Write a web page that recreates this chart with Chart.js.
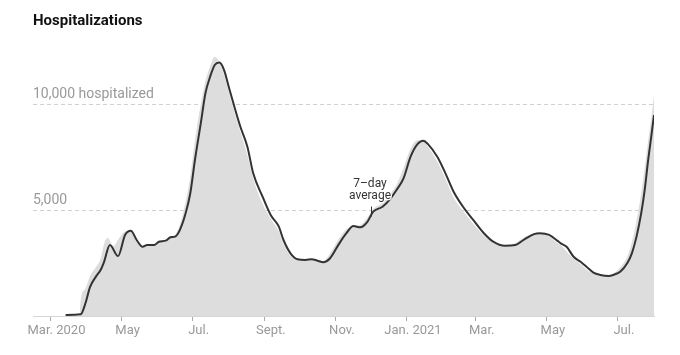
<!DOCTYPE html>
<html>
<head>
<meta charset="utf-8">
<script src="https://cdn.jsdelivr.net/npm/chart.js@4/dist/chart.umd.min.js"></script>
<style>
html,body{margin:0;padding:0;background:#fff;}
#wrap{width:680px;height:355px;position:relative;}
</style>
</head>
<body>
<div id="wrap"><canvas id="c" width="680" height="355"></canvas></div>
<script>
// ---- data ----
const avgDates = ['2020-03-14','2020-03-27','2020-03-31','2020-04-04','2020-04-09','2020-04-13','2020-04-16','2020-04-21','2020-04-28','2020-05-04','2020-05-09','2020-05-14','2020-05-19','2020-05-23','2020-05-29','2020-06-02','2020-06-08','2020-06-12','2020-06-16','2020-06-20','2020-06-25','2020-06-29','2020-07-03','2020-07-08','2020-07-12','2020-07-16','2020-07-20','2020-07-24','2020-07-28','2020-08-01','2020-08-05','2020-08-11','2020-08-17','2020-08-22','2020-08-30','2020-09-06','2020-09-13','2020-09-17','2020-09-23','2020-09-29','2020-10-06','2020-10-11','2020-10-17','2020-10-21','2020-10-27','2020-11-03','2020-11-10','2020-11-16','2020-11-22','2020-11-28','2020-12-03','2020-12-11','2020-12-18','2020-12-23','2020-12-29','2021-01-04','2021-01-10','2021-01-15','2021-01-19','2021-01-27','2021-02-03','2021-02-10','2021-02-19','2021-02-27','2021-03-08','2021-03-16','2021-03-26','2021-04-04','2021-04-11','2021-04-20','2021-04-25','2021-05-03','2021-05-10','2021-05-13','2021-05-18','2021-05-24','2021-05-30','2021-06-04','2021-06-10','2021-06-16','2021-06-23','2021-06-27','2021-07-03','2021-07-09','2021-07-13','2021-07-17','2021-07-21','2021-07-24','2021-07-27','2021-07-30','2021-08-01'];
const avgValues = [50,80,600,1380,1860,2170,2560,3350,2830,3830,4030,3590,3270,3350,3350,3510,3560,3720,3750,4060,4850,5800,7370,9100,10520,11300,11860,11970,11620,10830,10050,8940,8000,6740,5640,4770,4220,3590,2960,2680,2650,2680,2600,2540,2730,3350,3910,4250,4190,4450,4930,5160,5560,5950,6500,7520,8120,8280,8120,7520,6740,5870,5090,4530,3910,3510,3320,3350,3590,3870,3910,3830,3560,3430,3270,2800,2560,2330,2050,1940,1890,1940,2090,2490,2960,3750,4850,5950,7370,8630,9490];

const dailyDates = ['2020-03-26','2020-03-27','2020-03-31','2020-04-04','2020-04-09','2020-04-13','2020-04-16','2020-04-19','2020-04-24','2020-04-28','2020-05-04','2020-05-09','2020-05-14','2020-05-19','2020-05-23','2020-05-29','2020-06-02','2020-06-08','2020-06-12','2020-06-16','2020-06-20','2020-06-25','2020-06-29','2020-07-03','2020-07-08','2020-07-12','2020-07-16','2020-07-20','2020-07-24','2020-07-28','2020-08-01','2020-08-05','2020-08-11','2020-08-17','2020-08-22','2020-08-30','2020-09-06','2020-09-13','2020-09-17','2020-09-23','2020-09-29','2020-10-06','2020-10-11','2020-10-17','2020-10-21','2020-10-27','2020-11-03','2020-11-10','2020-11-16','2020-11-22','2020-11-28','2020-12-03','2020-12-11','2020-12-18','2020-12-23','2020-12-29','2021-01-04','2021-01-10','2021-01-15','2021-01-19','2021-01-27','2021-02-03','2021-02-10','2021-02-19','2021-02-27','2021-03-08','2021-03-16','2021-03-26','2021-04-04','2021-04-11','2021-04-20','2021-04-25','2021-05-03','2021-05-10','2021-05-13','2021-05-18','2021-05-24','2021-05-30','2021-06-04','2021-06-10','2021-06-16','2021-06-23','2021-06-27','2021-07-03','2021-07-09','2021-07-13','2021-07-17','2021-07-21','2021-07-24','2021-07-27','2021-07-30','2021-08-01'];
const dailyValues = [0,800,1300,1900,2300,2700,3400,3700,3300,3600,4000,4050,3500,3300,3400,3400,3550,3600,3750,3850,4300,5400,6600,8300,10000,11100,11800,12250,12000,11400,10600,9800,8700,7600,6500,5300,4600,4000,3400,2850,2650,2650,2650,2600,2600,2950,3600,4100,4250,4300,4650,5050,5350,5800,6200,7000,7900,8300,8250,8000,7300,6500,5600,4900,4350,3800,3450,3300,3450,3700,3900,3900,3750,3450,3350,3050,2700,2450,2200,2000,1900,1900,2000,2300,2800,3500,4500,5800,7000,8300,9500,10450];

const tickDates = ['2020-03-01','2020-05-01','2020-07-01','2020-09-01','2020-11-01','2021-01-01','2021-03-01','2021-05-01','2021-07-01'];
const tickLabels = ['Mar. 2020','May','Jul.','Sept.','Nov.','Jan. 2021','Mar.','May','Jul.'];
const yTickValues = [0, 5000, 10000];
const yTickLabels = ['', '5,000', '10,000 hospitalized'];
const axisStart = '2020-02-15';
const axisEnd = '2021-08-01';
const noteDate = '2020-12-01';
const noteValue = 4700;
const noteLines = ['7\u2013day', 'average'];

// ---- helpers ----
const ORIGIN = Date.parse('2020-03-01');
const day = d => (Date.parse(d) - ORIGIN) / 86400000;

Chart.defaults.font.family = "Roboto, 'Liberation Sans', sans-serif";

const notePlugin = {
  id: 'note',
  afterDatasetsDraw(chart) {
    const {ctx, scales: {x, y}} = chart;
    const px = Math.round(x.getPixelForValue(day(noteDate)));
    const py = y.getPixelForValue(noteValue);
    ctx.save();
    ctx.strokeStyle = '#333';
    ctx.lineWidth = 1;
    ctx.beginPath();
    ctx.moveTo(px + 0.5, py);
    ctx.lineTo(px + 0.5, py - 10);
    ctx.stroke();
    ctx.font = "12px Roboto, 'Liberation Sans', sans-serif";
    ctx.textAlign = 'center';
    ctx.textBaseline = 'middle';
    ctx.lineJoin = 'round';
    noteLines.forEach((t, i) => {
      const ty = py - 33 + i * 12.5;
      ctx.lineWidth = 2.5;
      ctx.strokeStyle = '#fff';
      ctx.strokeText(t, px - 1, ty);
      ctx.fillStyle = '#333';
      ctx.fillText(t, px - 1, ty);
    });
    ctx.restore();
  }
};

new Chart(document.getElementById('c'), {
  type: 'line',
  data: {
    datasets: [
      {
        label: '7-day average',
        data: avgDates.map((d, i) => ({x: day(d), y: avgValues[i]})),
        borderColor: '#333333',
        borderWidth: 2,
        pointRadius: 0,
        fill: false,
        cubicInterpolationMode: 'monotone',
        order: 1
      },
      {
        label: 'Daily',
        data: dailyDates.map((d, i) => ({x: day(d), y: dailyValues[i]})),
        borderWidth: 0,
        borderColor: 'rgba(0,0,0,0)',
        backgroundColor: '#dddddd',
        fill: 'origin',
        pointRadius: 0,
        cubicInterpolationMode: 'monotone',
        order: 2
      }
    ]
  },
  options: {
    responsive: false,
    animation: false,
    devicePixelRatio: 1,
    layout: {padding: {left: 33, right: 26, top: 0, bottom: 14.4}},
    plugins: {
      legend: {display: false},
      tooltip: {enabled: false},
      title: {
        display: true,
        text: 'Hospitalizations',
        align: 'start',
        color: '#121212',
        font: {size: 15, weight: 'bold'},
        padding: {top: 12, bottom: 21.4}
      }
    },
    scales: {
      x: {
        type: 'linear',
        min: day(axisStart),
        max: day(axisEnd),
        afterBuildTicks: s => { s.ticks = tickDates.map(d => ({value: day(d)})); },
        ticks: {
          autoSkip: false,
          maxRotation: 0,
          color: '#999',
          font: {size: 13},
          padding: 2,
          labelOffset: 6,
          callback: (v, i) => tickLabels[i]
        },
        grid: {drawOnChartArea: false, drawTicks: true, tickLength: 5, color: '#aaa'},
        border: {display: true, color: '#d6d6d6'}
      },
      y: {
        min: 0,
        max: 12500,
        afterBuildTicks: s => { s.ticks = yTickValues.map(v => ({value: v})); },
        ticks: {
          mirror: true,
          padding: 0,
          labelOffset: -10,
          color: '#999',
          font: {size: 14},
          callback: (v, i) => yTickLabels[i]
        },
        grid: {
          drawTicks: false,
          lineWidth: 1,
          color: c => (c.tick && c.tick.value === 0) ? 'rgba(0,0,0,0)' : '#d0d0d0'
        },
        border: {display: false, dash: [4, 3]}
      }
    }
  },
  plugins: [notePlugin]
});
</script>
</body>
</html>
